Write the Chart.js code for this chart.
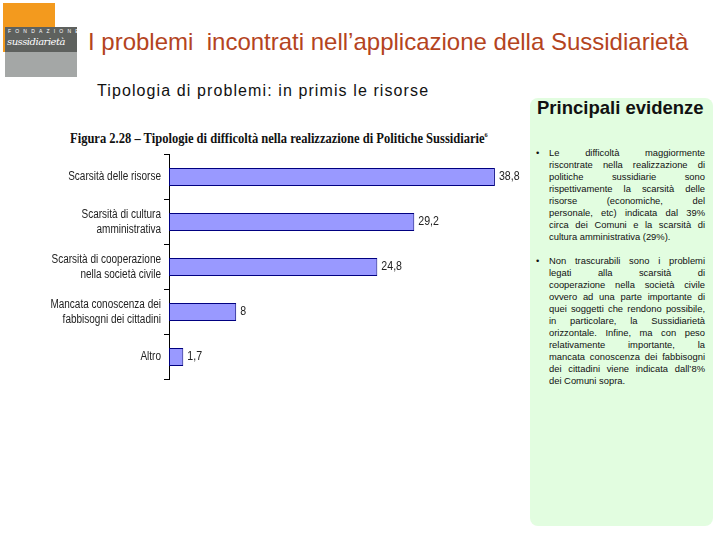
<!DOCTYPE html>
<html>
<head>
<meta charset="utf-8">
<script src="https://cdn.jsdelivr.net/npm/chart.js@4.4.0/dist/chart.umd.min.js"></script>
<style>
  body { margin: 0; width: 720px; height: 540px; background: #fff; position: relative; overflow: hidden; font-family: "Liberation Sans", Arial, sans-serif; }
  .abs { position: absolute; }
  #logoOrange { left: 3px; top: 3px; width: 52px; height: 49px; background: #F39A1E; }
  #logoDark { left: 5px; top: 27px; width: 72px; height: 25px; background: #5E615E; color: #fff; }
  #logoLight { left: 5px; top: 52px; width: 72px; height: 25px; background: #A4A7A6; }
  #logoDark .f { position: absolute; left: 3px; top: 1px; font-size: 5px; letter-spacing: 4.2px; }
  #logoDark .s { position: absolute; left: 2px; top: 9px; font-size: 10px; font-style: italic; font-family: "DejaVu Serif", serif; letter-spacing: -0.5px; }
  #title { left: 88px; top: 28px; font-size: 24px; color: #B4441E; white-space: pre; }
  #subtitle { left: 97px; top: 82px; font-size: 16px; color: #111; letter-spacing: 1.1px; }
  #figTitle { left: 70px; top: 131px; font-family: "Liberation Serif", serif; font-weight: bold; font-size: 14px; color: #111; white-space: nowrap; transform-origin: 0 0; }
  #figTitle sup { font-size: 7px; }
  #panel { left: 530px; top: 98px; width: 183px; height: 428px; background: #E2FDE0; border-radius: 8px; }
  #panelTitle { left: 537px; top: 97px; font-size: 18.5px; font-weight: bold; color: #111; }
  .bullet { position: absolute; left: 549px; width: 156px; font-size: 9.4px; line-height: 12px; color: #111; }
  .bullet div { white-space: nowrap; text-align: justify; text-align-last: justify; }
  .bullet div.last { text-align-last: left; }
  .bullet::before { content: "•"; position: absolute; left: -13px; }
  #chartBox { left: 40px; top: 150px; width: 490px; height: 235px; }
</style>
</head>
<body>
<div id="logoOrange" class="abs"></div>
<div id="logoDark" class="abs"><span class="f">FONDAZIONE</span><span class="s">sussidiarietà</span></div>
<div id="logoLight" class="abs"></div>
<div id="title" class="abs">I problemi  incontrati nell’applicazione della Sussidiarietà</div>
<div id="subtitle" class="abs">Tipologia di problemi: in primis le risorse</div>
<div id="panel" class="abs"></div>
<div id="panelTitle" class="abs">Principali evidenze</div>
<div class="bullet" style="top:147px">
  <div>Le difficoltà maggiormente</div>
  <div>riscontrate nella realizzazione di</div>
  <div>politiche sussidiarie sono</div>
  <div>rispettivamente la scarsità delle</div>
  <div>risorse (economiche, del</div>
  <div>personale, etc) indicata dal 39%</div>
  <div>circa dei Comuni e la scarsità di</div>
  <div class="last">cultura amministrativa (29%).</div>
</div>
<div class="bullet" style="top:255px">
  <div>Non trascurabili sono i problemi</div>
  <div>legati alla scarsità di</div>
  <div>cooperazione nella società civile</div>
  <div>ovvero ad una parte importante di</div>
  <div>quei soggetti che rendono possibile,</div>
  <div>in particolare, la Sussidiarietà</div>
  <div>orizzontale. Infine, ma con peso</div>
  <div>relativamente importante, la</div>
  <div>mancata conoscenza dei fabbisogni</div>
  <div>dei cittadini viene indicata dall’8%</div>
  <div class="last">dei Comuni sopra.</div>
</div>
<div id="figTitle" class="abs">Figura 2.28 – Tipologie di difficoltà nella realizzazione di Politiche Sussidiarie<sup>6</sup></div>
<div id="chartBox" class="abs"><canvas id="myChart" width="490" height="235"></canvas></div>
<script>
// categories and values
const categories = [
  ["Scarsità delle risorse"],
  ["Scarsità di cultura", "amministrativa"],
  ["Scarsità di cooperazione", "nella società civile"],
  ["Mancata conoscenza dei", "fabbisogni dei cittadini"],
  ["Altro"]
];
const values = [38.8, 29.2, 24.8, 8, 1.7];

// squeeze the serif figure title to its width in the picture
const ft = document.getElementById("figTitle");
ft.style.transform = "scaleX(" + (418 / ft.offsetWidth) + ")";

const labelFont = "12.5px 'Liberation Sans', Arial, sans-serif";
const squeeze = 0.8; // the original labels use a narrow face

// narrow category labels beside the y axis and values after the bars
const narrowText = {
  id: "narrowText",
  afterDraw(chart) {
    const ctx = chart.ctx;
    const yScale = chart.scales.y;
    const meta = chart.getDatasetMeta(0);
    ctx.save();
    ctx.font = labelFont;
    ctx.fillStyle = "#222";
    ctx.textBaseline = "middle";
    categories.forEach((lines, i) => {
      const yc = yScale.getPixelForTick(i);
      const xr = yScale.right - 8;
      lines.forEach((txt, j) => {
        const y = yc + (j - (lines.length - 1) / 2) * 15;
        ctx.save();
        ctx.translate(xr, y);
        ctx.scale(squeeze, 1);
        ctx.textAlign = "right";
        ctx.fillText(txt, 0, 0);
        ctx.restore();
      });
    });
    meta.data.forEach((bar, i) => {
      ctx.save();
      ctx.translate(bar.x + 4, bar.y);
      ctx.scale(0.85, 1);
      ctx.textAlign = "left";
      ctx.fillText(String(values[i]).replace(".", ","), 0, 0);
      ctx.restore();
    });
    ctx.restore();
  }
};

const ctx = document.getElementById("myChart").getContext("2d");
new Chart(ctx, {
  type: "bar",
  data: {
    labels: categories,
    datasets: [
      {
        data: values,
        backgroundColor: "#9999FF",
        borderColor: "#000080",
        borderWidth: 1,
        borderSkipped: false,
        categoryPercentage: 1,
        barPercentage: 0.4
      }
    ]
  },
  options: {
    indexAxis: "y",
    responsive: false,
    animation: false,
    layout: { padding: { top: 4.5, bottom: 5.5, right: 25, left: 0 } },
    plugins: { legend: { display: false }, tooltip: { enabled: false } },
    scales: {
      x: { display: false, min: 0, max: 40 },
      y: {
        afterFit: (scale) => { scale.width = 129; },
        border: { display: true, color: "#000", width: 1 },
        grid: { offset: true, drawOnChartArea: false, drawTicks: true, tickLength: 5, color: "#000" },
        ticks: { display: false }
      }
    }
  },
  plugins: [narrowText]
});
</script>
</body>
</html>
